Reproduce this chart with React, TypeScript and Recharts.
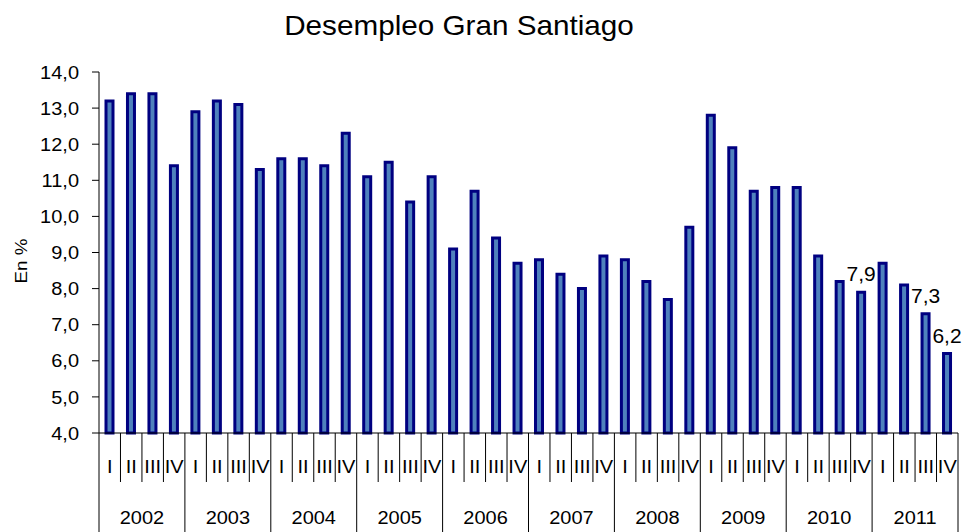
import React from 'react';
import { BarChart, Bar, XAxis, YAxis, LabelList } from 'recharts';

const years = ['2002', '2003', '2004', '2005', '2006', '2007', '2008', '2009', '2010', '2011'];
const quarters = ['I', 'II', 'III', 'IV'];
const values = [
  13.2, 13.4, 13.4, 11.4,
  12.9, 13.2, 13.1, 11.3,
  11.6, 11.6, 11.4, 12.3,
  11.1, 11.5, 10.4, 11.1,
  9.1, 10.7, 9.4, 8.7,
  8.8, 8.4, 8.0, 8.9,
  8.8, 8.2, 7.7, 9.7,
  12.8, 11.9, 10.7, 10.8,
  10.8, 8.9, 8.2, 7.9,
  8.7, 8.1, 7.3, 6.2,
];
const labeledKeys = ['2010-IV', '2011-III', '2011-IV'];
const yTicks = [4, 5, 6, 7, 8, 9, 10, 11, 12, 13, 14];

const fmt = (v: number) => v.toFixed(1).replace('.', ',');

const data = years.flatMap((year, yi) =>
  quarters.map((q, qi) => {
    const key = `${year}-${q}`;
    const value = values[yi * 4 + qi];
    return { key, year, q, value, lbl: labeledKeys.includes(key) ? fmt(value) : undefined };
  })
);

const W = 968;
const H = 532;
const Y_AXIS_W = 99;
const X_AXIS_H = 99;
const M = { top: 72, right: 10, bottom: 0, left: 0 };
const PLOT_W = W - M.left - M.right - Y_AXIS_W;
const STEP = PLOT_W / data.length;
const FONT = '"Liberation Sans", Arial, Helvetica, sans-serif';
const SX = 1.08;

function SText(props: any) {
  const { x, y, sx = SX, rotate = 0, children, ...rest } = props;
  const rot = rotate ? ` rotate(${rotate})` : '';
  return (
    <text
      transform={`translate(${x},${y})${rot} scale(${sx},1)`}
      x={0}
      y={0}
      fill="#000"
      fontFamily={FONT}
      {...rest}
    >
      {children}
    </text>
  );
}

function CategoryTick(props: any) {
  const { x, y, payload } = props;
  const i: number = payload?.index ?? props.index ?? 0;
  const d = data[i];
  if (!d) return null;
  const qi = i % 4;
  const half = STEP / 2;
  return (
    <g>
      <SText x={x} y={y + 40} textAnchor="middle" fontSize={18.5}>
        {d.q}
      </SText>
      {i === 0 && (
        <line x1={x - half} x2={x - half} y1={y} y2={y + X_AXIS_H} stroke="#000" strokeWidth={1} />
      )}
      <line
        x1={x + half}
        x2={x + half}
        y1={y}
        y2={qi === 3 ? y + X_AXIS_H : y + 49}
        stroke="#000"
        strokeWidth={1}
      />
      {qi === 1 && (
        <SText x={x + half} y={y + 91} textAnchor="middle" fontSize={18.5}>
          {d.year}
        </SText>
      )}
    </g>
  );
}

function ValueTick(props: any) {
  const { x, y, payload } = props;
  return (
    <SText x={x} y={y} dy="0.36em" textAnchor="end" fontSize={18.5}>
      {fmt(Number(payload.value))}
    </SText>
  );
}

function ValueLabel(props: any) {
  const { x, y, width, value } = props;
  if (value === undefined || value === null) return null;
  return (
    <SText
      x={Number(x) + Number(width) / 2}
      y={Number(y) - 11}
      textAnchor="middle"
      fontSize={20}
      sx={1.05}
    >
      {value}
    </SText>
  );
}

export default function App() {
  return (
    <div
      style={{
        position: 'absolute',
        left: 0,
        top: 0,
        width: W,
        height: H,
        background: '#fff',
        fontFamily: FONT,
      }}
    >
      <BarChart width={W} height={H} data={data} margin={M} barSize={7}>
        <SText x={459} y={35} textAnchor="middle" fontSize={28} sx={1.06}>
          Desempleo Gran Santiago
        </SText>
        <SText
          x={27}
          y={261}
          rotate={-90}
          sx={1.14}
          textAnchor="middle"
          fontSize={16.5}
        >
          En %
        </SText>
        <XAxis
          dataKey="key"
          type="category"
          height={X_AXIS_H}
          interval={0}
          tickSize={0}
          tickMargin={0}
          tickLine={false}
          axisLine={{ stroke: '#000', strokeWidth: 1 }}
          tick={<CategoryTick />}
        />
        <YAxis
          type="number"
          domain={[4, 14]}
          ticks={yTicks}
          width={Y_AXIS_W}
          tickSize={7}
          tickMargin={13}
          tick={<ValueTick />}
          axisLine={{ stroke: '#000', strokeWidth: 1 }}
          tickLine={{ stroke: '#000', strokeWidth: 1 }}
        />
        <Bar
          dataKey="value"
          fill="#4F81BD"
          stroke="#000080"
          strokeWidth={3}
          isAnimationActive={false}
        >
          <LabelList dataKey="lbl" content={<ValueLabel />} />
        </Bar>
      </BarChart>
    </div>
  );
}
